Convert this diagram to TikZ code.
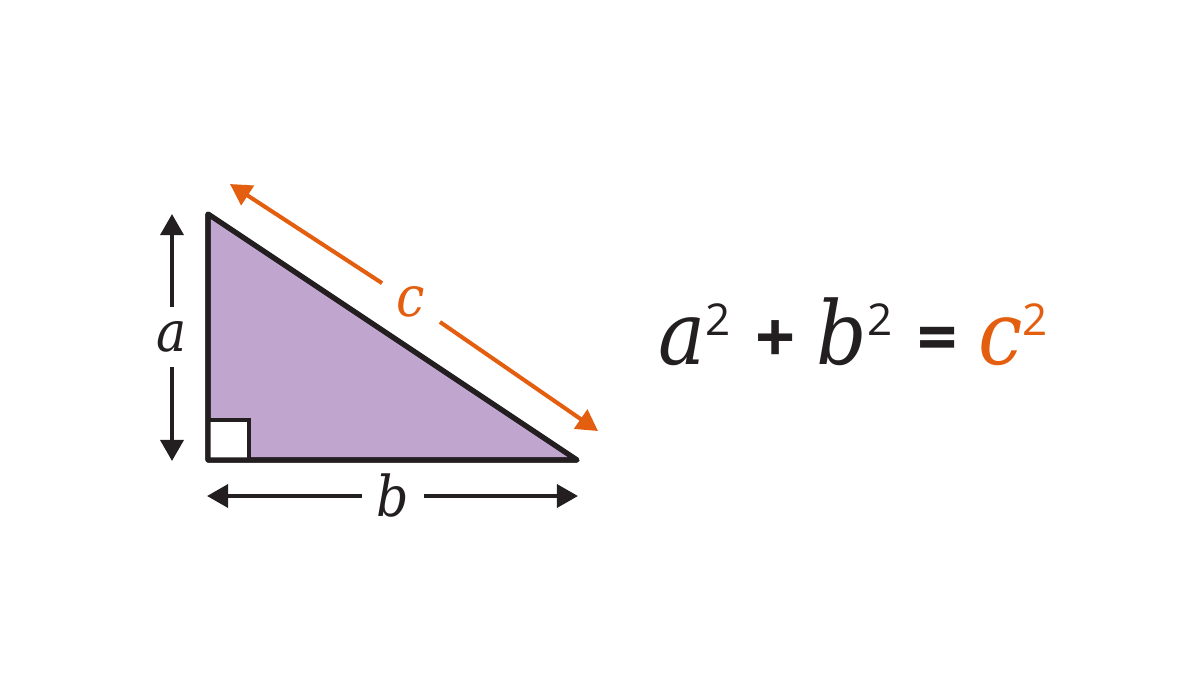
\documentclass[tikz,border=0pt]{standalone}
\usepackage{fontspec}
\setmainfont{Open Sans}
\newfontfamily\varfont{DejaVu Serif Condensed}
\definecolor{triviolet}{RGB}{192, 166, 207}
\definecolor{hypoorange}{RGB}{227, 94, 14}
\definecolor{inkgray}{RGB}{35, 31, 32}
\usetikzlibrary{arrows.meta, positioning}
\newcommand{\sqr}{\raisebox{8.2pt}{\fontsize{12.5}{12.5}\selectfont 2}}
\newcommand{\opsign}[1]{\raisebox{0.5pt}{\fontsize{20}{20}\selectfont\bfseries #1}}

\begin{document}
\begin{tikzpicture}[x=0.01cm, y=-0.01cm,
  side/.style={line width=1.45pt, inkgray, line join=round},
  dim/.style={-{Triangle[length=6pt, width=6.5pt]}, line width=1.15pt, inkgray},
  lbl/.style={inner sep=4pt, font=\varfont\itshape\fontsize{16}{16}\selectfont, text=inkgray}]
  \useasboundingbox (0, 0) rectangle (1200, 675);

  % Triangle
  \coordinate (top) at (208, 214);
  \coordinate (corner) at (208, 460);
  \coordinate (right) at (577, 460);
  \filldraw[side, fill=triviolet] (top) -- (corner) -- (right) -- cycle;
  \filldraw[line width=1.1pt, inkgray, fill=white] (corner) rectangle (249, 420);
  \draw[side] (top) -- (corner) -- (right) -- cycle;

  % Side a
  \coordinate (atop) at (172, 214);
  \coordinate (abot) at (172, 461);
  \node[lbl] (la) at (172, 337) {a};
  \draw[dim] (la) -- (atop);
  \draw[dim] (la) -- (abot);

  % Side b
  \coordinate (bleft) at (207, 496);
  \coordinate (bright) at (578, 496);
  \node[lbl] (lb) at (393, 496) {b};
  \draw[dim] (lb) -- (bleft);
  \draw[dim] (lb) -- (bright);

  % Hypotenuse c
  \coordinate (cup) at (230, 184);
  \coordinate (cdown) at (598, 431);
  \node[lbl, text=hypoorange] (lc) at (411, 302) {c};
  \draw[dim, hypoorange] (lc) -- (cup);
  \draw[dim, hypoorange] (lc) -- (cdown);

  % Equation
  \node[anchor=base west, inner sep=0pt, text=inkgray, font=\fontsize{25}{25}\selectfont] (eq) at (658, 364) {%
    {\varfont\itshape a}\sqr\hspace{7pt}\opsign{+}\hspace{6pt}{\varfont\itshape b}\sqr\hspace{7pt}\opsign{=}\hspace{6pt}{\varfont\itshape\color{hypoorange}c}{\color{hypoorange}\sqr}};
\end{tikzpicture}
\end{document}
